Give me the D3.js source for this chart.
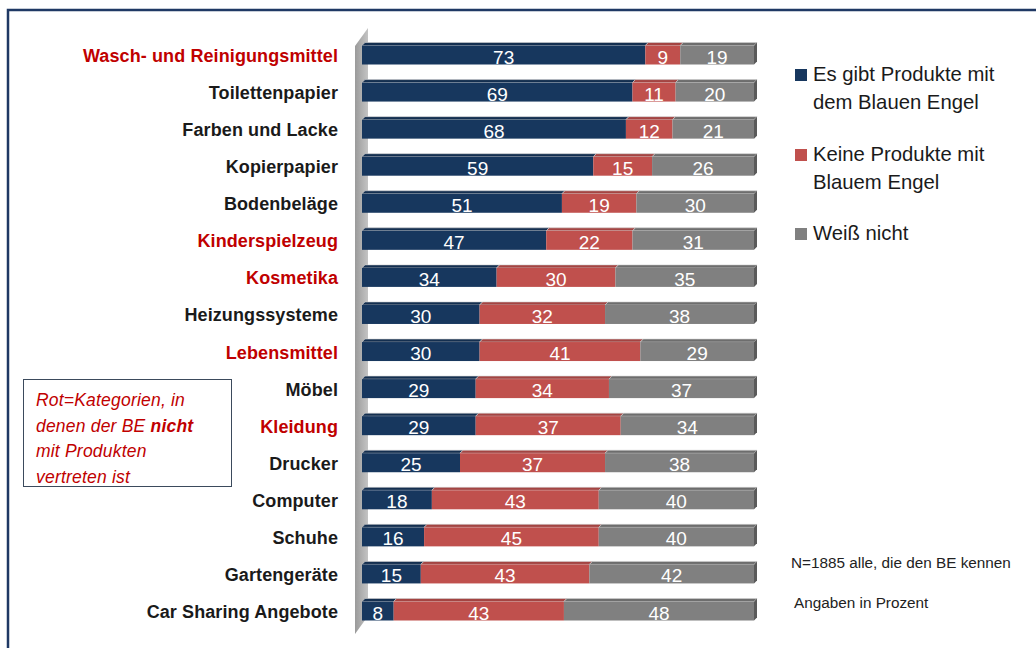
<!DOCTYPE html>
<html>
<head>
<meta charset="utf-8">
<script src="https://cdn.jsdelivr.net/npm/d3@7"></script>
<style>
  body { margin: 0; background: #fff; }
  svg { display: block; }
</style>
</head>
<body>
<svg id="chart" width="1036" height="648"></svg>
<script>
// categories (top to bottom) and the three series, in percent
const categories = ["Wasch- und Reinigungsmittel", "Toilettenpapier", "Farben und Lacke", "Kopierpapier",
  "Bodenbeläge", "Kinderspielzeug", "Kosmetika", "Heizungssysteme", "Lebensmittel", "Möbel",
  "Kleidung", "Drucker", "Computer", "Schuhe", "Gartengeräte", "Car Sharing Angebote"];
const withBE    = [73, 69, 68, 59, 51, 47, 34, 30, 30, 29, 29, 25, 18, 16, 15, 8];
const withoutBE = [9, 11, 12, 15, 19, 22, 30, 32, 41, 34, 37, 37, 43, 45, 43, 43];
const unknown   = [19, 20, 21, 26, 30, 31, 35, 38, 29, 37, 34, 38, 40, 40, 42, 48];
// categories where the BE has no products (drawn red)
const redCategories = ["Wasch- und Reinigungsmittel", "Kinderspielzeug", "Kosmetika", "Lebensmittel", "Kleidung"];
const seriesKeys = ["ja", "nein", "weiss"];
const seriesLabels = [["Es gibt Produkte mit", "dem Blauen Engel"], ["Keine Produkte mit", "Blauem Engel"], ["Weiß nicht"]];
const seriesColors = ["#17375e", "#c0504d", "#808080"];
const noteLines = ["Rot=Kategorien, in", "denen der BE |nicht", "mit Produkten", "vertreten ist"];
const footNotes = ["N=1885 alle, die den BE kennen", "Angaben in Prozent"];

const FONT = "'Liberation Sans', Arial, sans-serif";

const svg = d3.select("#chart");

// outer frame (runs off the right and bottom edge)
svg.append("rect")
  .attr("x", 8).attr("y", 10)
  .attr("width", 1100).attr("height", 700)
  .attr("fill", "none")
  .attr("stroke", "#1f3864")
  .attr("stroke-width", 2.5);

const rows = categories.map((c, i) => ({cat: c, ja: withBE[i], nein: withoutBE[i], weiss: unknown[i]}));
const stacked = d3.stack().keys(seriesKeys).offset(d3.stackOffsetExpand)(rows);

const x = d3.scaleLinear().domain([0, 1]).range([362, 754]);
const y = d3.scalePoint().domain(categories).range([55, 611]);
const barH = 19, depth = 3;
const color = d3.scaleOrdinal().domain(seriesKeys).range(seriesColors);

// side wall of the 3d chart
const wallGrad = svg.append("defs").append("linearGradient")
  .attr("id", "wall").attr("x1", 0).attr("x2", 1).attr("y1", 0).attr("y2", 0);
wallGrad.append("stop").attr("offset", 0).attr("stop-color", "#9a9a9a");
wallGrad.append("stop").attr("offset", 1).attr("stop-color", "#c4c4c4");
svg.append("path")
  .attr("d", "M355,46 L368,28 L368,616 L355,634 Z")
  .attr("fill", "url(#wall)");

const bars = svg.append("g").attr("class", "bars");

stacked.forEach(s => {
  const g = bars.append("g").attr("class", "series-" + s.key);
  const c = color(s.key);
  // top face
  g.selectAll("path.top")
    .data(s)
    .enter().append("path")
    .attr("class", "top")
    .attr("d", d => {
      const x0 = x(d[0]), x1 = x(d[1]), t = y(d.data.cat) - barH / 2;
      return `M${x0},${t} L${x0 + depth},${t - depth} L${x1 + depth},${t - depth} L${x1},${t} Z`;
    })
    .attr("fill", d3.color(c).darker(0.45))
    .attr("stroke", "#d0d0d0")
    .attr("stroke-width", 0.6);
  // front face
  g.selectAll("rect")
    .data(s)
    .enter().append("rect")
    .attr("x", d => x(d[0]))
    .attr("y", d => y(d.data.cat) - barH / 2)
    .attr("width", d => x(d[1]) - x(d[0]))
    .attr("height", barH)
    .attr("fill", c);
});

// right end of each bar
bars.selectAll("path.end")
  .data(stacked[stacked.length - 1])
  .enter().append("path")
  .attr("class", "end")
  .attr("d", d => {
    const x1 = x(d[1]), t = y(d.data.cat) - barH / 2, b = t + barH;
    return `M${x1},${t} L${x1 + depth},${t - depth} L${x1 + depth},${b - depth} L${x1},${b} Z`;
  })
  .attr("fill", "#5a5a5a");

// value labels
stacked.forEach(s => {
  bars.selectAll("text.v-" + s.key)
    .data(s)
    .enter().append("text")
    .attr("class", "v-" + s.key)
    .attr("x", d => (x(d[0]) + x(d[1])) / 2)
    .attr("y", d => y(d.data.cat) + 8.5)
    .attr("text-anchor", "middle")
    .attr("font-family", FONT)
    .attr("font-size", 19)
    .attr("fill", "#fff")
    .text(d => d.data[s.key]);
});

// category labels
svg.append("g").selectAll("text")
  .data(categories)
  .enter().append("text")
  .attr("x", 338)
  .attr("y", d => y(d) + 7)
  .attr("text-anchor", "end")
  .attr("font-family", FONT)
  .attr("font-weight", "bold")
  .attr("font-size", 18)
  .attr("letter-spacing", 0.1)
  .attr("fill", d => redCategories.includes(d) ? "#c00000" : "#1a1a1a")
  .text(d => d);

// legend
const legendY = [81, 161, 240];
const legend = svg.append("g").attr("class", "legend");
seriesKeys.forEach((k, i) => {
  legend.append("rect")
    .attr("x", 795).attr("y", legendY[i] - 12)
    .attr("width", 12).attr("height", 12)
    .attr("fill", color(k));
  seriesLabels[i].forEach((line, j) => {
    legend.append("text")
      .attr("x", 813)
      .attr("y", legendY[i] + j * 28)
      .attr("font-family", FONT)
      .attr("font-size", 20.3)
      .attr("fill", "#1a1a1a")
      .text(line);
  });
});

// note box
svg.append("rect")
  .attr("x", 23.5).attr("y", 379.5)
  .attr("width", 208).attr("height", 107)
  .attr("fill", "none")
  .attr("stroke", "#3b4a5c")
  .attr("stroke-width", 1);
noteLines.forEach((line, i) => {
  const parts = line.split("|");
  const t = svg.append("text")
    .attr("x", 36)
    .attr("y", 406 + i * 25.5)
    .attr("font-family", FONT)
    .attr("font-style", "italic")
    .attr("font-size", 17.5)
    .attr("letter-spacing", 0.2)
    .attr("fill", "#c00000");
  t.append("tspan").text(parts[0]);
  if (parts[1]) t.append("tspan").attr("font-weight", "bold").text(parts[1]);
});

// foot notes
svg.selectAll("text.foot")
  .data(footNotes)
  .enter().append("text")
  .attr("class", "foot")
  .attr("x", (d, i) => i ? 794 : 791)
  .attr("y", (d, i) => i ? 608 : 568)
  .attr("font-family", FONT)
  .attr("font-size", 15.3)
  .attr("fill", "#222")
  .text(d => d);
</script>
</body>
</html>
